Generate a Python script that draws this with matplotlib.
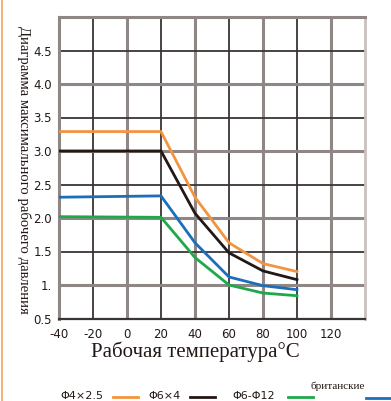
import matplotlib
matplotlib.use("Agg")
import matplotlib.pyplot as plt
from matplotlib.lines import Line2D

temps = [-40, 20, 40, 60, 80, 100]
s_orange = [3.29, 3.29, 2.31, 1.63, 1.32, 1.20]
s_black = [3.00, 3.00, 2.07, 1.48, 1.21, 1.08]
s_blue = [2.31, 2.33, 1.63, 1.12, 0.99, 0.93]
s_green = [2.02, 2.01, 1.41, 1.00, 0.88, 0.84]

series_names = ["Φ4×2.5", "Φ6×4", "Φ6-Φ12", "британские"]
colors = ["#f39440", "#231815", "#1fa84a", "#1b6fba"]

xticks = [-40, -20, 0, 20, 40, 60, 80, 100, 120]
yticks = [0.5, 1.0, 1.5, 2.0, 2.5, 3.0, 3.5, 4.0, 4.5]
ylabels = ["0.5", "1.", "1.5", "2.0", "2.5", "3.0", "3.5", "4.0", "4.5"]

W, H = 391, 401
fig = plt.figure(figsize=(W / 100, H / 100), dpi=100)
ax = fig.add_axes([59 / W, 1 - 318.5 / H, (365 - 59) / W, (318.5 - 17) / H])
ax.set_xlim(-40, 140)
ax.set_ylim(0.5, 5.0)

dark = "#3b3434"
gray = "#8f8786"
# grid
for i, xv in enumerate(range(-20, 140, 20)):
    c, lw = (dark, 1.3) if i % 2 == 0 else (gray, 2.2)
    ax.axvline(xv, color=c, lw=lw, zorder=1)
for i, yv in enumerate([1.0, 1.5, 2.0, 2.5, 3.0, 3.5, 4.0, 4.5]):
    c, lw = (gray, 2.2) if i % 2 == 0 else (dark, 1.3)
    ax.axhline(yv, color=c, lw=lw, zorder=1)
for side in ["left", "top"]:
    ax.spines[side].set_color(gray)
    ax.spines[side].set_linewidth(2.2)
ax.spines["bottom"].set_color(dark)
ax.spines["bottom"].set_linewidth(1.6)
ax.spines["right"].set_color("#c9c1c0")
ax.spines["right"].set_linewidth(2.0)

series = [s_orange, s_black, s_green, s_blue]
for vals, col in zip(series, colors):
    ax.plot(temps, vals, color=col, lw=2.0, zorder=3, solid_joinstyle="miter")

ax.set_xticks(xticks)
ax.set_xticklabels([str(v) for v in xticks])
ax.set_yticks(yticks)
ax.set_yticklabels(ylabels)
ax.tick_params(length=0, labelsize=8.5, colors="#231815", pad=5)
ax.tick_params(axis="x", pad=7)

fig.text(195 / W, 1 - 352 / H, "Рабочая температура°C", family="Liberation Serif",
         fontsize=15, color="#231815", ha="center", va="center")
fig.text(24 / W, 1 - 170 / H, "Диаграмма максимального рабочего давления",
         rotation=270, family="Liberation Serif", fontsize=10.6, color="#231815",
         ha="center", va="center")

# left orange border
fig.add_artist(Line2D([2 / W, 2 / W], [0, 1], color="#f0b878", lw=1.5))

# legend
ly = 1 - 396 / H
lx_text = [60, 148, 232]
lx_line = [113, 190, 288]
for name, tx, lx, col in zip(series_names[:3], lx_text, lx_line, colors[:3]):
    fig.text(tx / W, ly, name, fontsize=8, color="#231815", ha="left", va="center")
    fig.add_artist(Line2D([lx / W, (lx + 25) / W], [1 - 397 / H, 1 - 397 / H], color=col, lw=2))
fig.text(338 / W, 1 - 386 / H, series_names[3], family="Liberation Serif", fontsize=8,
         color="#231815", ha="center", va="center")
fig.add_artist(Line2D([366 / W, 395 / W], [1 - 398 / H, 1 - 398 / H], color=colors[3], lw=2))

fig.savefig("out.png", dpi=100)
